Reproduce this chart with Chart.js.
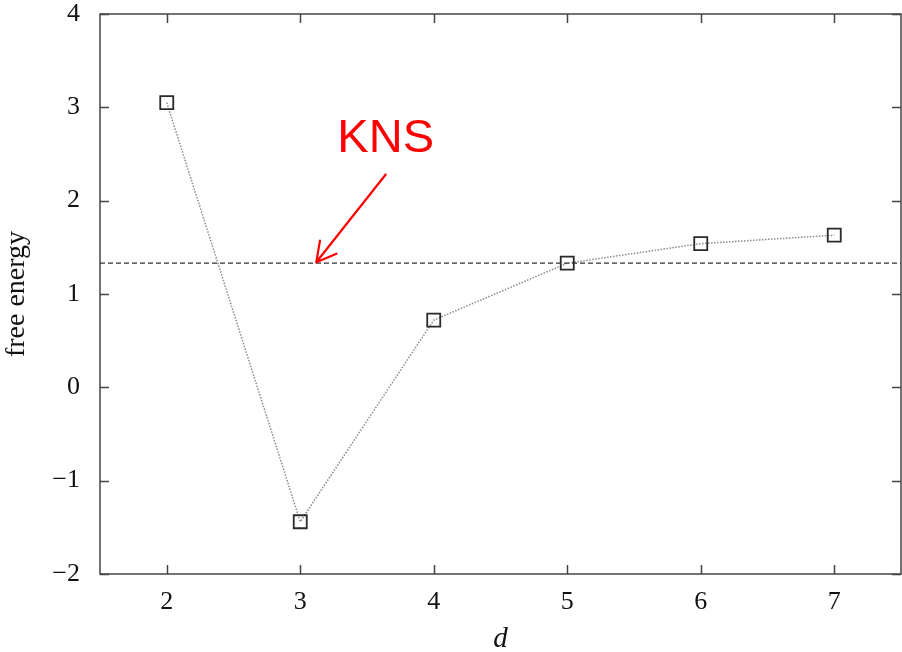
<!DOCTYPE html>
<html>
<head>
<meta charset="utf-8">
<script src="https://cdn.jsdelivr.net/npm/chart.js@4.4.0/dist/chart.umd.min.js"></script>
<style>
  html, body { margin: 0; padding: 0; background: #fff; overflow: hidden; }
  #wrap { width: 902px; height: 652px; position: relative; }
  canvas { display: block; }
</style>
</head>
<body>
<div id="wrap"><canvas id="energy-chart"></canvas></div>
<script>
// d values and free energy per d
var dValues = [2, 3, 4, 5, 6, 7];
var freeEnergy = [3.05, -1.44, 0.72, 1.33, 1.54, 1.63];

// KNS reference level (dashed line)
var knsLevel = 1.33;

// axis ranges and ticks
var xRange = [1.5, 7.5];
var yRange = [-2, 4];
var xTicks = [2, 3, 4, 5, 6, 7];
var yTicks = [-2, -1, 0, 1, 2, 3, 4];

// label + arrow anchor points in data units
var knsLabel = { text: "KNS", x: 3.64, y: 2.52 };
var knsArrowFrom = { x: 3.64, y: 2.28 };
var knsArrowTo = { x: 3.12, y: 1.34 };

var serif = "'Liberation Serif', 'Times New Roman', serif";

var points = [];
for (var i = 0; i < dValues.length; i++) {
  points.push({ x: dValues[i], y: freeEnergy[i] });
}

// frame with inward ticks on all four sides
var framePlugin = {
  id: "frame",
  afterDraw: function(chart) {
    var ctx = chart.ctx;
    var a = chart.chartArea;
    var xs = chart.scales.x, ys = chart.scales.y;
    var len = 9;
    ctx.save();
    ctx.strokeStyle = "#444";
    ctx.lineWidth = 1.5;
    ctx.strokeRect(a.left, a.top, a.right - a.left, a.bottom - a.top);
    ctx.beginPath();
    xTicks.forEach(function(v) {
      var px = Math.round(xs.getPixelForValue(v)) + 0.5;
      ctx.moveTo(px, a.bottom); ctx.lineTo(px, a.bottom - len);
      ctx.moveTo(px, a.top); ctx.lineTo(px, a.top + len);
    });
    yTicks.forEach(function(v) {
      var py = Math.round(ys.getPixelForValue(v)) + 0.5;
      ctx.moveTo(a.left, py); ctx.lineTo(a.left + len, py);
      ctx.moveTo(a.right, py); ctx.lineTo(a.right - len, py);
    });
    ctx.stroke();
    ctx.restore();
  }
};

// red "KNS" note with arrow pointing at the dashed line
var knsPlugin = {
  id: "kns",
  afterDatasetsDraw: function(chart) {
    var ctx = chart.ctx;
    var xs = chart.scales.x, ys = chart.scales.y;
    var x0 = xs.getPixelForValue(knsArrowFrom.x), y0 = ys.getPixelForValue(knsArrowFrom.y);
    var x1 = xs.getPixelForValue(knsArrowTo.x), y1 = ys.getPixelForValue(knsArrowTo.y);
    ctx.save();
    ctx.strokeStyle = "#ff0000";
    ctx.fillStyle = "#ff0000";
    ctx.lineWidth = 2.2;
    ctx.lineCap = "round";
    ctx.beginPath();
    ctx.moveTo(x0, y0);
    ctx.lineTo(x1, y1);
    var ang = Math.atan2(y1 - y0, x1 - x0);
    var head = 22, spread = 0.5;
    ctx.moveTo(x1, y1);
    ctx.lineTo(x1 - head * Math.cos(ang - spread), y1 - head * Math.sin(ang - spread));
    ctx.moveTo(x1, y1);
    ctx.lineTo(x1 - head * Math.cos(ang + spread), y1 - head * Math.sin(ang + spread));
    ctx.stroke();
    ctx.font = "47px 'Liberation Sans', Arial, sans-serif";
    ctx.textAlign = "center";
    ctx.textBaseline = "alphabetic";
    ctx.fillText(knsLabel.text, xs.getPixelForValue(knsLabel.x), ys.getPixelForValue(knsLabel.y));
    ctx.restore();
  }
};

var ctx = document.getElementById("energy-chart").getContext("2d");
var chart = new Chart(ctx, {
  type: "scatter",
  data: {
    datasets: [{
      label: "KNS",
      data: [{ x: xRange[0], y: knsLevel }, { x: xRange[1], y: knsLevel }],
      showLine: true,
      borderColor: "#333",
      borderWidth: 1.3,
      borderDash: [5, 3],
      pointRadius: 0,
      fill: false
    }, {
      label: "free energy",
      data: points,
      showLine: true,
      borderColor: "#8a8a8a",
      borderWidth: 1.5,
      borderDash: [1.5, 1.5],
      pointStyle: "rect",
      pointRadius: 9.2,
      pointBorderColor: "#2a2a2a",
      pointBorderWidth: 1.8,
      pointBackgroundColor: "rgba(0,0,0,0)",
      fill: false
    }]
  },
  options: {
    responsive: true,
    maintainAspectRatio: false,
    animation: false,
    layout: { autoPadding: false, padding: { top: 14, right: 1, left: 0, bottom: 0 } },
    plugins: {
      legend: { display: false },
      tooltip: { enabled: false }
    },
    scales: {
      x: {
        type: "linear",
        min: xRange[0],
        max: xRange[1],
        afterBuildTicks: function(scale) {
          scale.ticks = xTicks.map(function(v) { return { value: v }; });
        },
        afterFit: function(scale) {
          scale.height = 78;
          scale.paddingLeft = 0;
          scale.paddingRight = 0;
        },
        grid: { display: false, drawTicks: false },
        border: { display: false },
        ticks: {
          color: "#111",
          padding: 13,
          maxRotation: 0,
          font: { family: serif, size: 26 }
        },
        title: {
          display: true,
          text: "d",
          color: "#111",
          padding: { top: 4, bottom: -5 },
          font: { family: serif, size: 29, style: "italic" }
        }
      },
      y: {
        type: "linear",
        min: yRange[0],
        max: yRange[1],
        afterBuildTicks: function(scale) {
          scale.ticks = yTicks.map(function(v) { return { value: v }; });
        },
        afterFit: function(scale) {
          scale.width = 100;
          scale.paddingTop = 0;
          scale.paddingBottom = 0;
        },
        grid: { display: false, drawTicks: false },
        border: { display: false },
        ticks: {
          color: "#111",
          padding: 20,
          font: { family: serif, size: 26 },
          callback: function(v) { return v < 0 ? "\u2212" + Math.abs(v) : String(v); }
        },
        title: {
          display: true,
          text: "free energy",
          color: "#111",
          padding: { top: 0, bottom: 0 },
          font: { family: serif, size: 28 }
        }
      }
    }
  },
  plugins: [framePlugin, knsPlugin]
});
</script>
</body>
</html>
